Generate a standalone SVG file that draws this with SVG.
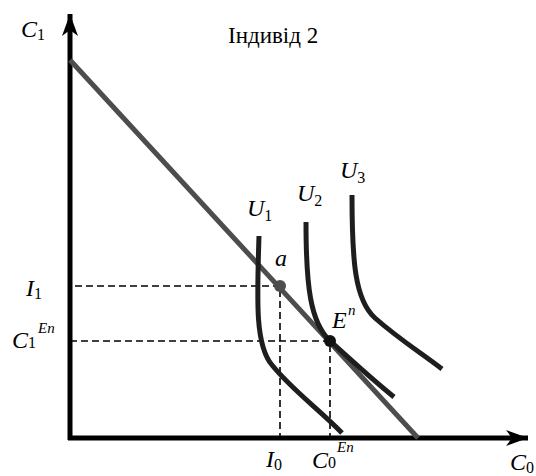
<svg xmlns="http://www.w3.org/2000/svg" width="536" height="476" viewBox="0 0 536 476" font-family="'Liberation Serif', 'DejaVu Serif', serif">
<style>
text{font-family:'Liberation Serif','DejaVu Serif',serif;fill:#000}
.v{font-style:italic;font-size:24px}
.s{font-size:16px;font-style:normal}
.sup{font-size:15px;font-style:italic}
.axis{stroke:#000;stroke-width:5;fill:none}
.curve{stroke:#1e1e1e;stroke-width:5;fill:none}
.dash{stroke:#000;stroke-width:1.6;stroke-dasharray:7 4;fill:none}
</style>
<defs>
<marker id="arr" markerUnits="userSpaceOnUse" markerWidth="24" markerHeight="18" refX="22" refY="9" orient="auto">
<path d="M0,1 L22,9 L0,17 L6,9 Z" fill="#000"/>
</marker>
</defs>
<g id="axes">
<line class="axis" x1="70" y1="440" x2="70" y2="14" marker-end="url(#arr)"/>
<line class="axis" x1="68" y1="438" x2="528" y2="438" marker-end="url(#arr)"/>
</g>
<g id="connectors">
<path class="dash" d="M75,286 H280 V438"/>
<path class="dash" d="M70,341 H330 V438"/>
</g>
<g id="budget">
<line x1="70" y1="60" x2="418" y2="438" stroke="#4d4d4d" stroke-width="5"/>
</g>
<g id="U1">
<path class="curve" d="M259,236 C257,300 255,345 272,365 C292,390 320,410 342,433"/>
<text class="v" x="247" y="216">U<tspan class="s" dy="5">1</tspan></text>
</g>
<g id="U2">
<path class="curve" d="M306,222 C306,285 310,322 330,341 C352,361 375,382 394,397"/>
<text class="v" x="297" y="201">U<tspan class="s" dy="5">2</tspan></text>
</g>
<g id="U3">
<path class="curve" d="M352,195 C352,262 355,300 375,318 C400,340 420,352 442,369"/>
<text class="v" x="340" y="178">U<tspan class="s" dy="5">3</tspan></text>
</g>
<g id="point-a">
<circle cx="280" cy="286" r="6" fill="#4d4d4d"/>
<text class="v" x="275" y="266">a</text>
</g>
<g id="point-E">
<circle cx="330" cy="341" r="6" fill="#111"/>
<text class="v" x="332" y="328">E</text>
<text class="sup" x="348" y="315">n</text>
</g>
<g id="labels">
<text x="228" y="43" font-size="23">Індивід 2</text>
<text class="v" x="21" y="37">C<tspan class="s" dy="3">1</tspan></text>
<text class="v" x="26" y="296">I<tspan class="s" dy="3">1</tspan></text>
<text class="v" x="12" y="348">C<tspan class="s">1</tspan></text>
<text class="sup" x="38" y="333">En</text>
<text class="v" x="266" y="467">I<tspan class="s" dy="3">0</tspan></text>
<text class="v" x="312" y="468">C<tspan class="s">0</tspan></text>
<text class="sup" x="337" y="452">En</text>
<text class="v" x="510" y="470">C<tspan class="s" dy="3">0</tspan></text>
</g>
</svg>
